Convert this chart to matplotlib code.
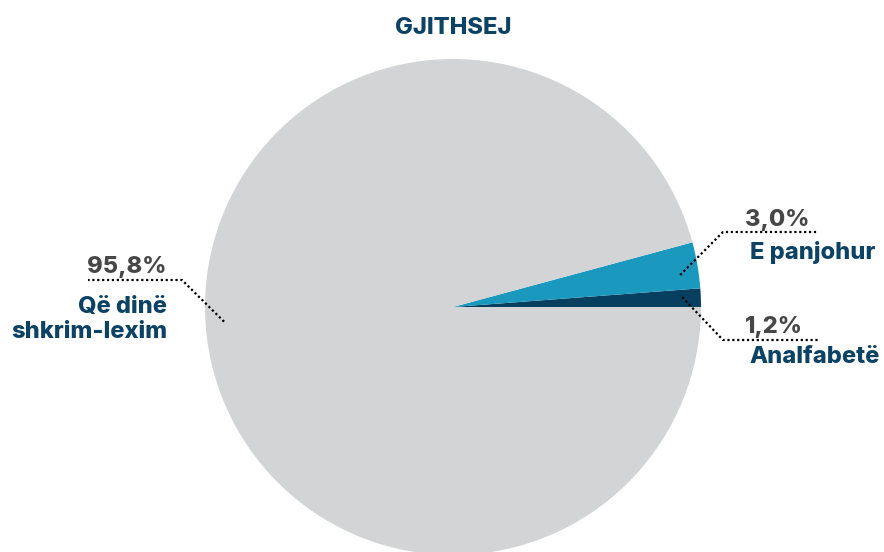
import matplotlib
matplotlib.use("Agg")
import matplotlib.pyplot as plt
from matplotlib import font_manager as fm
import numpy as np

# ---- data ----
categories = ["Analfabetë", "E panjohur", "Që dinë\nshkrim-lexim"]
values = [1.2, 3.0, 95.8]
pct_labels = ["1,2%", "3,0%", "95,8%"]
title = "GJITHSEJ"

# ---- style / layout ----
colors = ["#073f60", "#1b98be", "#d3d4d6"]
navy = "#0c4264"
grey_txt = "#474747"
W, H = 884, 552
cx, cy, R = 453, H - 307, 248
FS = 17


def font_props(fname, size):
    for f in fm.fontManager.ttflist:
        if f.fname.endswith(fname):
            return fm.FontProperties(fname=f.fname, size=size)
    return fm.FontProperties(family=["Inter", "DejaVu Sans"], weight="heavy", size=size)


fp = font_props("Inter-ExtraBold.otf", FS)

fig = plt.figure(figsize=(W / 100, H / 100), dpi=100)
ax = fig.add_axes([0, 0, 1, 1])
wedges, _ = ax.pie(values, colors=colors, startangle=0, counterclock=True,
                   center=(cx, cy), radius=R, frame=True,
                   wedgeprops=dict(linewidth=0))
ax.set_xlim(0, W)
ax.set_ylim(0, H)
ax.set_aspect('equal')
ax.axis('off')

# label layout (pixel positions from top-left)
layout = [
    dict(dang=0.3, rf=0.925, elbow=(723, 340), endx=818, pct=(745, 333), name=(749, 363), ha='left'),
    dict(dang=-1.7, rf=0.925, elbow=(723, 232), endx=818, pct=(745, 226), name=(750, 259), ha='left'),
    dict(dang=-3.9, rf=0.925, elbow=(182, 280), endx=88, pct=(167, 273), name=(167, 338), ha='right'),
]

for w, lab, cat, L in zip(wedges, pct_labels, categories, layout):
    mid = np.deg2rad((w.theta1 + w.theta2) / 2 + L['dang'])
    ax_x = cx + L['rf'] * R * np.cos(mid)
    ax_y = cy + L['rf'] * R * np.sin(mid)
    ex, ey = L['elbow'][0], H - L['elbow'][1]
    ax.plot([ax_x, ex, L['endx']], [ax_y, ey, ey], color='black',
            linestyle=(0, (1, 1.2)), linewidth=1.6, solid_capstyle='butt')
    ax.text(L['pct'][0], H - L['pct'][1], lab, ha=L['ha'], va='baseline',
            fontproperties=fp, color=grey_txt)
    ax.text(L['name'][0], H - L['name'][1], cat, ha=L['ha'], va='baseline',
            fontproperties=fp, color=navy, linespacing=1.19,
            multialignment=L['ha'])

ax.text(cx, H - 34, title, ha='center', va='baseline',
        fontproperties=fp, color=navy)

fig.savefig("out.png", dpi=100)
